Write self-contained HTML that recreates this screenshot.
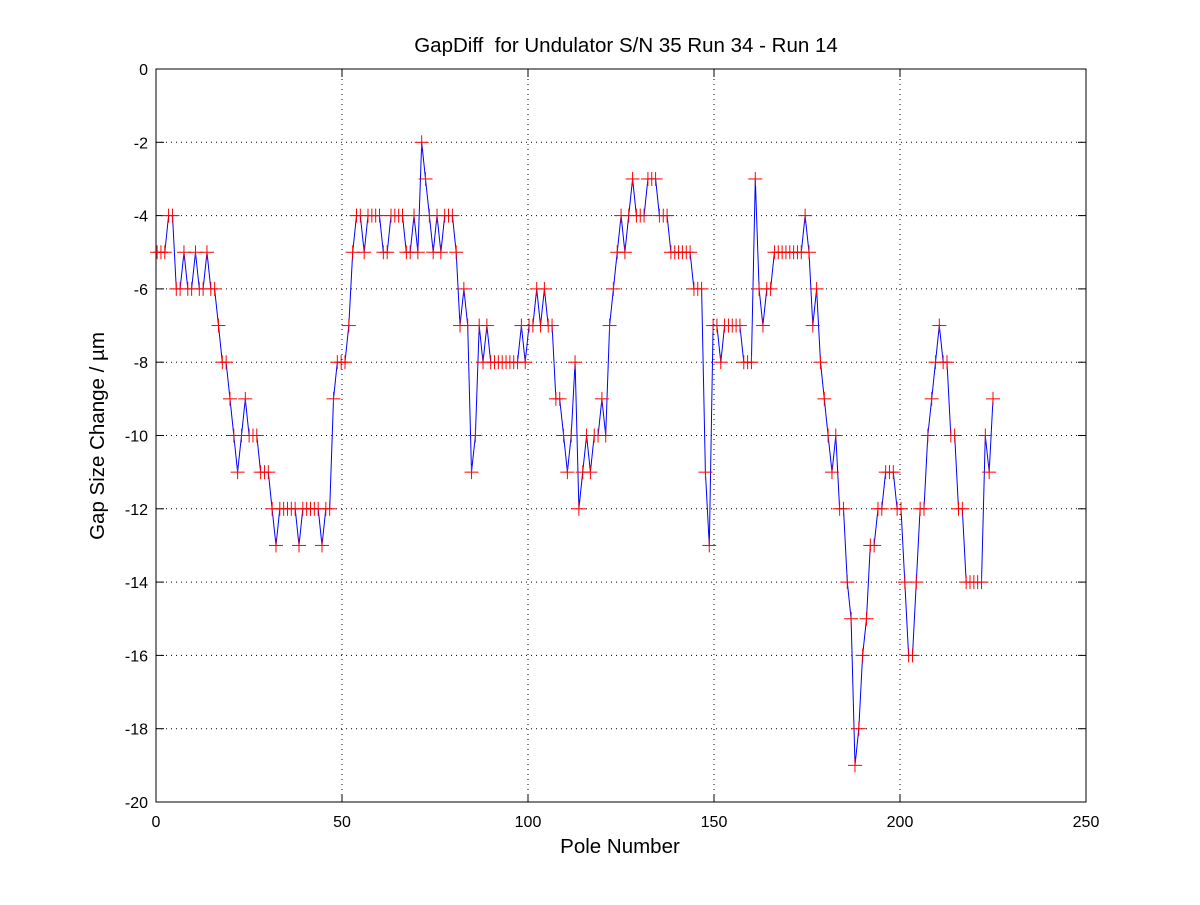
<!DOCTYPE html>
<html><head><meta charset="utf-8"><style>
body{margin:0;background:#fff}
svg text{font-family:"Liberation Sans",sans-serif;font-size:16px;fill:#000}
svg text.big{font-size:20.5px}
</style></head><body>
<svg id="s" width="1200" height="900" xmlns="http://www.w3.org/2000/svg">
<rect width="1200" height="900" fill="#fff"/>
<g id="grid" stroke="#000" stroke-width="1" stroke-dasharray="1,4"></g>
<rect x="156" y="69" width="930" height="733" fill="none" stroke="#000"/>
<g id="ticks"></g>
<polyline id="line" fill="none" stroke="#0000ff" stroke-width="1"/>
<g id="marks" stroke="#ff0000" stroke-width="1"></g>
<text class="big" x="626" y="52" text-anchor="middle" xml:space="preserve">GapDiff  for Undulator S/N 35 Run 34 - Run 14</text>
<text class="big" x="620" y="853" text-anchor="middle">Pole Number</text>
<text class="big" transform="translate(104,436) rotate(-90)" text-anchor="middle">Gap Size Change / µm</text>
</svg>
<script>
var X0=156,X1=1086,Y0=69,Y1=802;
function px(x){return X0+(X1-X0)*x/250}
function py(y){return Y0+(Y1-Y0)*(-y)/20}
var g=document.getElementById('grid'),t=document.getElementById('ticks'),ns="http://www.w3.org/2000/svg";
function el(p,tag,a,txt){var e=document.createElementNS(ns,tag);for(var k in a)e.setAttribute(k,a[k]);if(txt!=null)e.textContent=txt;p.appendChild(e);return e}
for(var x=0;x<=250;x+=50){var X=px(x);
 if(x>0&&x<250)el(g,'line',{x1:X,y1:Y0,x2:X,y2:Y1});
 el(t,'line',{x1:X,y1:Y1,x2:X,y2:Y1-8,stroke:'#000'});el(t,'line',{x1:X,y1:Y0,x2:X,y2:Y0+8,stroke:'#000'});
 el(t,'text',{x:X,y:Y1+25,'text-anchor':'middle'},x);}
for(var y=0;y>=-20;y-=2){var Y=py(y);
 if(y<0&&y>-20)el(g,'line',{x1:X0,y1:Y,x2:X1,y2:Y});
 el(t,'line',{x1:X0,y1:Y,x2:X0+8,y2:Y,stroke:'#000'});el(t,'line',{x1:X1,y1:Y,x2:X1-8,y2:Y,stroke:'#000'});
 el(t,'text',{x:X0-8,y:Y+6,'text-anchor':'end'},y);}
var d=[-5,-5,-5,-4,-4,-6,-6,-5,-6,-6,-5,-6,-6,-5,-6,-6,-7,-8,-8,-9,-10,-11,-10,-9,-10,-10,-10,-11,-11,-11,-12,-13,-12,-12,-12,-12,-12,-13,-12,-12,-12,-12,-12,-13,-12,-12,-9,-8,-8,-8,-7,-5,-4,-4,-5,-4,-4,-4,-4,-5,-5,-4,-4,-4,-4,-5,-5,-4,-5,-2,-3,-4,-5,-4,-5,-4,-4,-4,-5,-7,-6,-7,-11,-10,-7,-8,-7,-8,-8,-8,-8,-8,-8,-8,-8,-7,-8,-7,-7,-6,-7,-6,-7,-7,-9,-9,-10,-11,-10,-8,-12,-11,-10,-11,-10,-10,-9,-10,-7,-6,-5,-4,-5,-4,-3,-4,-4,-4,-3,-3,-3,-4,-4,-4,-5,-5,-5,-5,-5,-5,-6,-6,-6,-11,-13,-7,-7,-8,-7,-7,-7,-7,-7,-8,-8,-8,-3,-6,-7,-6,-6,-5,-5,-5,-5,-5,-5,-5,-5,-4,-5,-7,-6,-8,-9,-10,-11,-10,-12,-12,-14,-15,-19,-18,-16,-15,-13,-13,-12,-12,-11,-11,-11,-12,-12,-14,-16,-16,-14,-12,-12,-10,-9,-8,-7,-8,-8,-10,-10,-12,-12,-14,-14,-14,-14,-14,-10,-11,-9];
var n=d.length,pts=[],m=document.getElementById('marks');
for(var i=0;i<n;i++){var x=0.3+(225-0.3)*i/(n-1);var X=px(x),Y=py(d[i]);pts.push(X.toFixed(1)+','+Y.toFixed(1));
 el(m,'line',{x1:X-7,y1:Y,x2:X+7,y2:Y});el(m,'line',{x1:X,y1:Y-7,x2:X,y2:Y+7});}
document.getElementById('line').setAttribute('points',pts.join(' '));
</script>
</body></html>
